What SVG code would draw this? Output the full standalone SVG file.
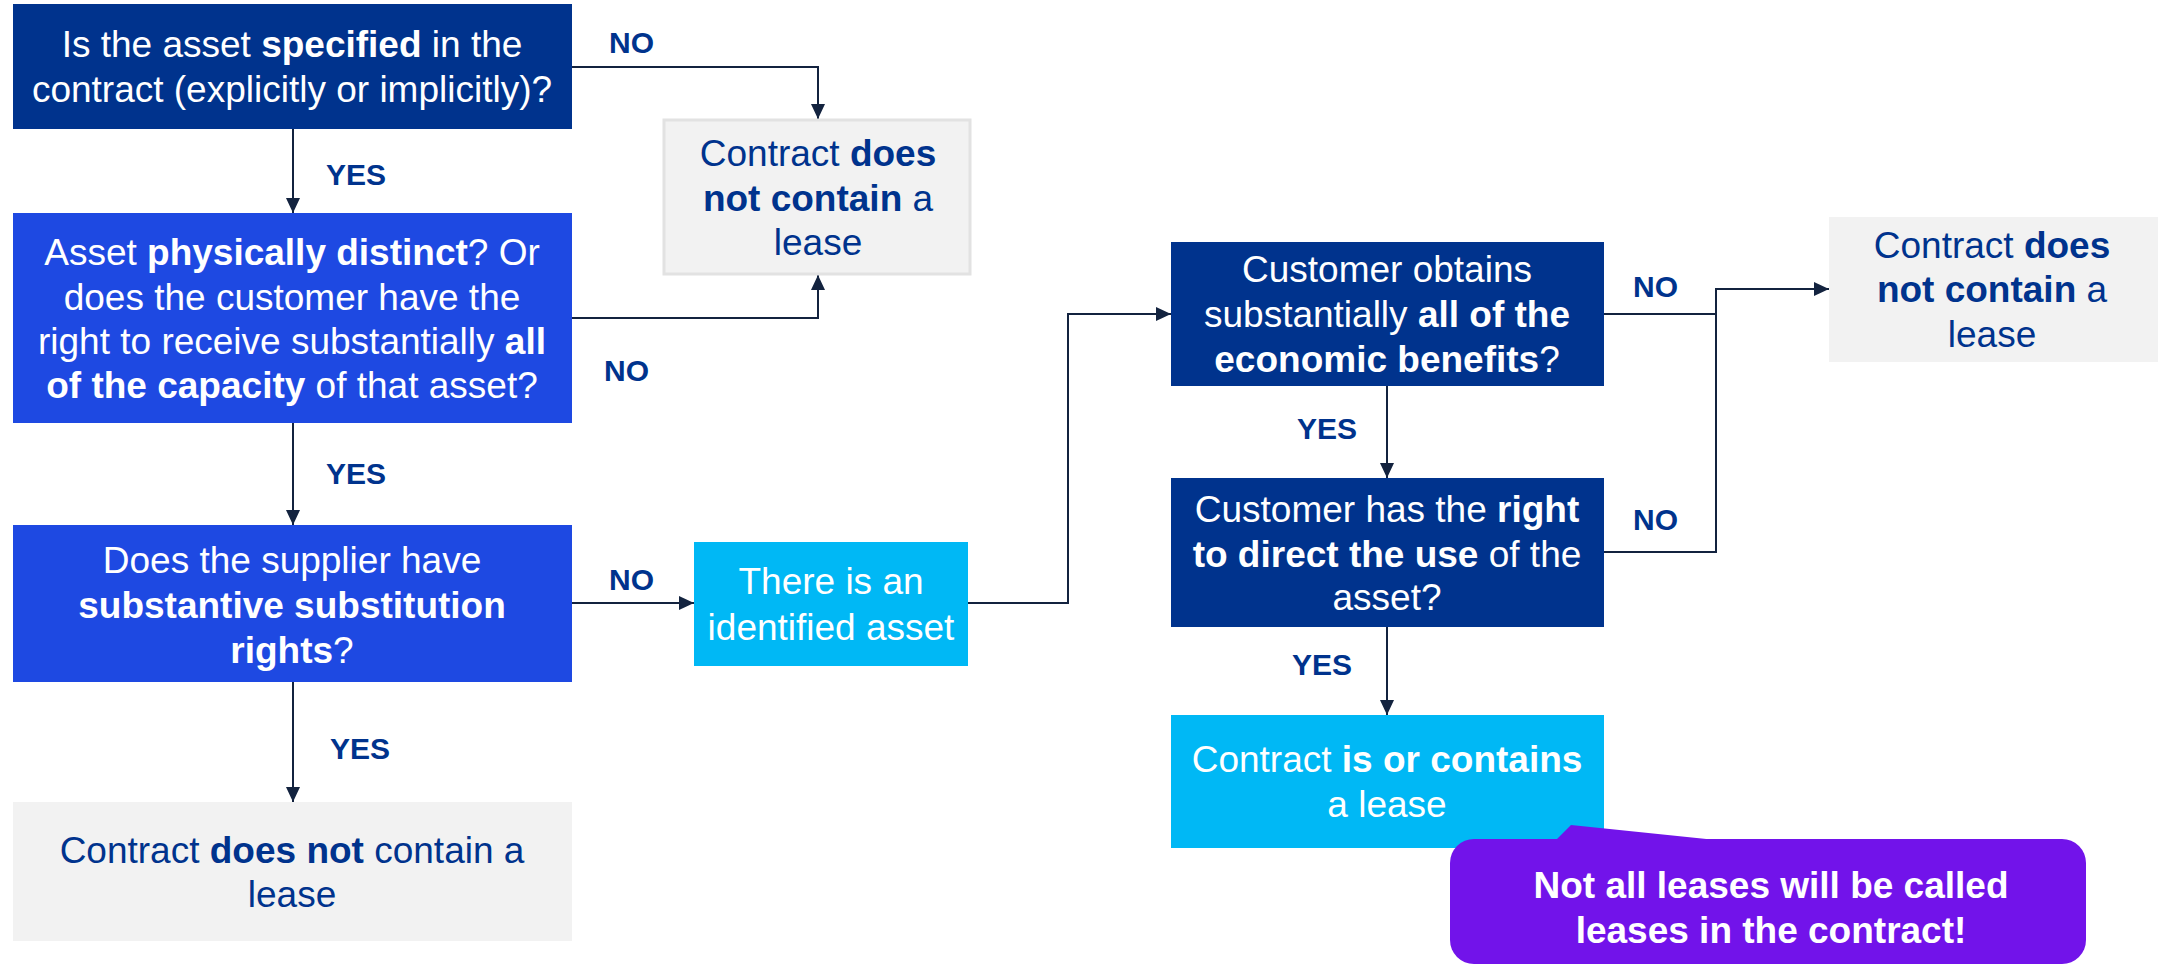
<svg xmlns="http://www.w3.org/2000/svg" width="2160" height="966" viewBox="0 0 2160 966">
<style>
  text { font-family: "Liberation Sans", Arial, sans-serif; font-size: 37px; text-anchor: middle; }
  .w { fill: #ffffff; }
  .n { fill: #00338D; }
  .b { font-weight: bold; }
  .lbl { font-size: 30px; font-weight: bold; fill: #00338D; text-anchor: start; }
  .navy { fill: #00338D; }
  .cobalt { fill: #1E49E2; }
  .cyan { fill: #00B8F5; }
  .grey { fill: #F2F2F2; }
  .conn { fill: none; stroke: #13233F; stroke-width: 2; }
</style>
<defs>
  <marker id="arr" viewBox="0 0 15 14" refX="15" refY="7" markerWidth="15" markerHeight="14" markerUnits="userSpaceOnUse" orient="auto">
    <path d="M0,0 L15,7 L0,14 z" fill="#13233F"/>
  </marker>
</defs>

<g id="connectors">
  <path class="conn" d="M572,67 H818 V119" marker-end="url(#arr)"/>
  <path class="conn" d="M572,318 H818 V275" marker-end="url(#arr)"/>
  <path class="conn" d="M293,129 V213" marker-end="url(#arr)"/>
  <path class="conn" d="M293,423 V525" marker-end="url(#arr)"/>
  <path class="conn" d="M293,682 V802" marker-end="url(#arr)"/>
  <path class="conn" d="M572,603 H694" marker-end="url(#arr)"/>
  <path class="conn" d="M968,603 H1068 V314 H1171" marker-end="url(#arr)"/>
  <path class="conn" d="M1604,314 H1716 V289 H1829" marker-end="url(#arr)"/>
  <path class="conn" d="M1604,552 H1716 V289"/>
  <path class="conn" d="M1387,386 V478" marker-end="url(#arr)"/>
  <path class="conn" d="M1387,627 V715" marker-end="url(#arr)"/>
  <text class="lbl" x="609" y="53">NO</text>
  <text class="lbl" x="326" y="185">YES</text>
  <text class="lbl" x="604" y="381">NO</text>
  <text class="lbl" x="326" y="484">YES</text>
  <text class="lbl" x="609" y="590">NO</text>
  <text class="lbl" x="330" y="759">YES</text>
  <text class="lbl" x="1633" y="297">NO</text>
  <text class="lbl" x="1633" y="530">NO</text>
  <text class="lbl" x="1297" y="439">YES</text>
  <text class="lbl" x="1292" y="675">YES</text>
</g>

<g id="q-specified">
  <rect class="navy" x="13" y="4" width="559" height="125"/>
  <text class="w" x="292" y="57">Is the asset <tspan class="b">specified</tspan> in the</text>
  <text class="w" x="292" y="102">contract (explicitly or implicitly)?</text>
</g>

<g id="no-lease-1">
  <rect class="grey" x="664" y="120" width="306" height="154" stroke="#E2E2E2" stroke-width="3"/>
  <text class="n" x="818" y="166">Contract <tspan class="b">does</tspan></text>
  <text class="n" x="818" y="211"><tspan class="b">not contain</tspan> a</text>
  <text class="n" x="818" y="255">lease</text>
</g>

<g id="q-distinct">
  <rect class="cobalt" x="13" y="213" width="559" height="210"/>
  <text class="w" x="292" y="265">Asset <tspan class="b">physically distinct</tspan>? Or</text>
  <text class="w" x="292" y="310">does the customer have the</text>
  <text class="w" x="292" y="354">right to receive substantially <tspan class="b">all</tspan></text>
  <text class="w" x="292" y="398"><tspan class="b">of the capacity</tspan> of that asset?</text>
</g>

<g id="q-substitution">
  <rect class="cobalt" x="13" y="525" width="559" height="157"/>
  <text class="w" x="292" y="573">Does the supplier have</text>
  <text class="w b" x="292" y="618">substantive substitution</text>
  <text class="w" x="292" y="663"><tspan class="b">rights</tspan>?</text>
</g>

<g id="no-lease-2">
  <rect class="grey" x="13" y="802" width="559" height="139"/>
  <text class="n" x="292" y="863">Contract <tspan class="b">does not</tspan> contain a</text>
  <text class="n" x="292" y="907">lease</text>
</g>

<g id="identified-asset">
  <rect class="cyan" x="694" y="542" width="274" height="124"/>
  <text class="w" x="831" y="594">There is an</text>
  <text class="w" x="831" y="640">identified asset</text>
</g>

<g id="q-benefits">
  <rect class="navy" x="1171" y="242" width="433" height="144"/>
  <text class="w" x="1387" y="282">Customer obtains</text>
  <text class="w" x="1387" y="327">substantially <tspan class="b">all of the</tspan></text>
  <text class="w b" x="1387" y="372">economic benefits<tspan font-weight="normal">?</tspan></text>
</g>

<g id="no-lease-3">
  <rect class="grey" x="1829" y="217" width="329" height="145"/>
  <text class="n" x="1992" y="258">Contract <tspan class="b">does</tspan></text>
  <text class="n" x="1992" y="302"><tspan class="b">not contain</tspan> a</text>
  <text class="n" x="1992" y="347">lease</text>
</g>

<g id="q-direct">
  <rect class="navy" x="1171" y="478" width="433" height="149"/>
  <text class="w" x="1387" y="522">Customer has the <tspan class="b">right</tspan></text>
  <text class="w" x="1387" y="567"><tspan class="b">to direct the use</tspan> of the</text>
  <text class="w" x="1387" y="610">asset?</text>
</g>

<g id="is-lease">
  <rect class="cyan" x="1171" y="715" width="433" height="133"/>
  <text class="w" x="1387" y="772">Contract <tspan class="b">is or contains</tspan></text>
  <text class="w" x="1387" y="817">a lease</text>
</g>

<g id="callout">
  <rect x="1450" y="839" width="636" height="125" rx="24" ry="24" fill="#7213EA"/>
  <path d="M1556,840 L1571,825 L1716,840 z" fill="#7213EA"/>
  <text class="w b" x="1771" y="898" font-size="34">Not all leases will be called</text>
  <text class="w b" x="1771" y="943" font-size="34">leases in the contract!</text>
</g>
</svg>
